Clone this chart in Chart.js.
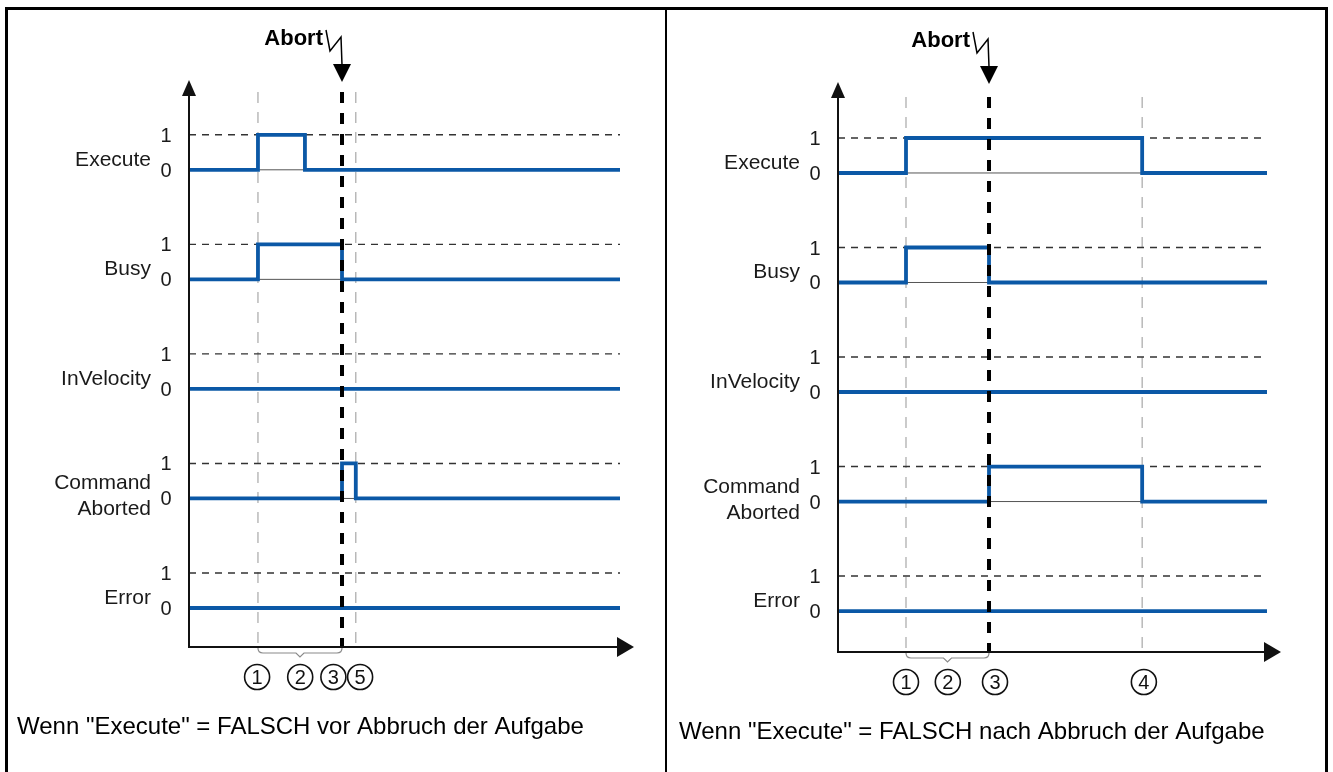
<!DOCTYPE html>
<html><head><meta charset="utf-8">
<script src="https://cdn.jsdelivr.net/npm/chart.js@4.4.0/dist/chart.umd.min.js"></script>
<style>
html,body{margin:0;padding:0;background:#fff;width:1333px;height:772px;overflow:hidden}
.panel{position:absolute;top:0;height:772px}
#pl{left:0;width:666px}
#pr{left:666px;width:667px}
.frame{position:absolute;left:5px;top:7px;width:1317px;height:800px;border:3px solid #000;border-bottom:none;pointer-events:none}
.divider{position:absolute;left:665px;top:7px;width:2px;height:800px;background:#000;pointer-events:none}
</style></head><body>
<div class="panel" id="pl"><canvas id="cl"></canvas></div>
<div class="panel" id="pr"><canvas id="cr"></canvas></div>
<div class="frame"></div><div class="divider"></div>
<script>
// ---------- data ----------
const signalNames = ['Execute', 'Busy', 'InVelocity', 'Command\nAborted', 'Error'];
const levelTicks = ['0', '1'];

// left: "Execute" = FALSE before the abort   [time, value]
const leftExecute        = [[0,0],[1.60,1],[2.69,0],[10,0]];
const leftBusy           = [[0,0],[1.60,1],[3.55,0],[10,0]];
const leftInVelocity     = [[0,0],[10,0]];
const leftCommandAborted = [[0,0],[3.55,1],[3.87,0],[10,0]];
const leftError          = [[0,0],[10,0]];
const leftAbortTime      = 3.55;
const leftMarkerTimes    = [1.60, 3.87];
const leftStepLabels     = ['1','2','3','5'];
const leftStepTimes      = [1.58, 2.58, 3.35, 3.97];
const leftBraceSpan      = [1.60, 3.55];
const leftCaption        = 'Wenn "Execute" = FALSCH vor Abbruch der Aufgabe';

// right: "Execute" = FALSE after the abort
const rightExecute        = [[0,0],[1.585,1],[7.09,0],[10,0]];
const rightBusy           = [[0,0],[1.585,1],[3.52,0],[10,0]];
const rightInVelocity     = [[0,0],[10,0]];
const rightCommandAborted = [[0,0],[3.52,1],[7.09,0],[10,0]];
const rightError          = [[0,0],[10,0]];
const rightAbortTime      = 3.52;
const rightMarkerTimes    = [1.585, 7.09];
const rightStepLabels     = ['1','2','3','4'];
const rightStepTimes      = [1.585, 2.56, 3.66, 7.13];
const rightBraceSpan      = [1.585, 3.52];
const rightCaption        = 'Wenn "Execute" = FALSCH nach Abbruch der Aufgabe';

// ---------- layout / style ----------
const LANE = 3.13;          // vertical distance between signal lanes (value units)
const T_END = 10;
const BLUE = '#0b58a6';
const FONT = '"Liberation Sans", Arial, Helvetica, sans-serif';

const panels = {
  cl: {series:[leftExecute,leftBusy,leftInVelocity,leftCommandAborted,leftError],
       abort:leftAbortTime, markers:leftMarkerTimes, steps:leftStepLabels, stepTimes:leftStepTimes,
       brace:leftBraceSpan, caption:leftCaption, capX:17,
       pad:{left:189,right:46,top:80,bottom:125}, yMin:-1.114, yMax:15.086, markTop:14.74},
  cr: {series:[rightExecute,rightBusy,rightInVelocity,rightCommandAborted,rightError],
       abort:rightAbortTime, markers:rightMarkerTimes, steps:rightStepLabels, stepTimes:rightStepTimes,
       brace:rightBraceSpan, caption:rightCaption, capX:13,
       pad:{left:172,right:66,top:82,bottom:120}, yMin:-1.17, yMax:15.12, markTop:14.69}
};

const laneBase = i => (signalNames.length - 1 - i) * LANE;

function sText(ctx, str, x, y, size, weight, align){
  ctx.save();
  ctx.font = weight + ' ' + size + 'px ' + FONT;
  ctx.textAlign = align; ctx.textBaseline = 'alphabetic';
  ctx.fillText(str, x, y);
  ctx.restore();
}

const overlay = {
  id: 'overlay',
  afterDraw(chart){
    const P = panels[chart.canvas.id];
    const ctx = chart.ctx, xs = chart.scales.x, ys = chart.scales.y;
    const x0 = xs.getPixelForValue(0), xEnd = xs.getPixelForValue(T_END);
    const yb = ys.getPixelForValue(P.yMin), yt = ys.getPixelForValue(P.yMax);
    ctx.save();
    ctx.fillStyle = '#111'; ctx.strokeStyle = '#111'; ctx.lineCap = 'butt';
    // axes
    ctx.lineWidth = 2;
    ctx.beginPath(); ctx.moveTo(x0, yb); ctx.lineTo(x0, yt + 14); ctx.stroke();
    ctx.beginPath(); ctx.moveTo(x0, yt); ctx.lineTo(x0 - 7, yt + 16); ctx.lineTo(x0 + 7, yt + 16); ctx.closePath(); ctx.fill();
    const xt = xEnd + 14;
    ctx.beginPath(); ctx.moveTo(x0 - 1, yb); ctx.lineTo(xt - 15, yb); ctx.stroke();
    ctx.beginPath(); ctx.moveTo(xt, yb); ctx.lineTo(xt - 17, yb - 10); ctx.lineTo(xt - 17, yb + 10); ctx.closePath(); ctx.fill();

    // lane labels
    ctx.fillStyle = '#1a1a1a';
    signalNames.forEach((name, i) => {
      const y0 = ys.getPixelForValue(laneBase(i));
      const y1 = ys.getPixelForValue(laneBase(i) + 1);
      const parts = name.split('\n');
      if (parts.length === 1) sText(ctx, parts[0], x0 - 38, y0 - 4, 21, 'normal', 'right');
      else { sText(ctx, parts[0], x0 - 38, y0 - 9, 21, 'normal', 'right');
             sText(ctx, parts[1], x0 - 38, y0 + 17, 21, 'normal', 'right'); }
      sText(ctx, levelTicks[0], x0 - 23, y0 + 7, 20, 'normal', 'center');
      sText(ctx, levelTicks[1], x0 - 23, y1 + 7, 20, 'normal', 'center');
    });

    // Abort arrow with lightning
    const ax = xs.getPixelForValue(P.abort), tip = yt + 2;
    ctx.fillStyle = '#000'; ctx.strokeStyle = '#000'; ctx.lineWidth = 1.5;
    ctx.beginPath();
    ctx.moveTo(ax - 16, tip - 52); ctx.lineTo(ax - 12, tip - 31);
    ctx.lineTo(ax - 1, tip - 45); ctx.lineTo(ax, tip - 17); ctx.stroke();
    ctx.beginPath(); ctx.moveTo(ax, tip); ctx.lineTo(ax - 9, tip - 18); ctx.lineTo(ax + 9, tip - 18); ctx.closePath(); ctx.fill();
    sText(ctx, 'Abort', ax - 19, tip - 37, 22, 'bold', 'right');

    // brace
    const bx1 = xs.getPixelForValue(P.brace[0]), bx2 = xs.getPixelForValue(P.brace[1]);
    const bm = (bx1 + bx2) / 2;
    ctx.strokeStyle = '#8a8a8a'; ctx.lineWidth = 1.2;
    ctx.beginPath();
    ctx.moveTo(bx1, yb + 1);
    ctx.quadraticCurveTo(bx1, yb + 6, bx1 + 5, yb + 6);
    ctx.lineTo(bm - 4, yb + 6); ctx.lineTo(bm, yb + 10); ctx.lineTo(bm + 4, yb + 6);
    ctx.lineTo(bx2 - 5, yb + 6);
    ctx.quadraticCurveTo(bx2, yb + 6, bx2, yb + 1);
    ctx.stroke();

    // step circles
    ctx.strokeStyle = '#111'; ctx.fillStyle = '#111'; ctx.lineWidth = 1.6;
    P.steps.forEach((s, k) => {
      const cx = xs.getPixelForValue(P.stepTimes[k]), cy = yb + 30;
      ctx.beginPath(); ctx.arc(cx, cy, 12.5, 0, Math.PI * 2); ctx.stroke();
      sText(ctx, s, cx, cy + 7, 20, 'normal', 'center');
    });

    // caption
    ctx.fillStyle = '#000';
    sText(ctx, P.caption, P.capX, yb + 87, 24, 'normal', 'left');
    ctx.restore();
  }
};

function build(id){
  const P = panels[id];
  const ds = [];
  const seg = (t) => [{x:t, y:P.markTop}, {x:t, y:P.yMin}];
  // thick abort marker on top
  ds.push({data: seg(P.abort), borderColor:'#000', borderWidth:4, borderDash:[11,10]});
  // signals
  P.series.forEach((s, i) => ds.push({
    data: s.map(([t, v]) => ({x:t, y:laneBase(i) + v})),
    stepped: true, borderColor: BLUE, borderWidth: 3.8
  }));
  // level "1" dashed guides
  signalNames.forEach((n, i) => ds.push({
    data: [{x:0, y:laneBase(i) + 1}, {x:T_END, y:laneBase(i) + 1}],
    borderColor:'#333', borderWidth:1.4, borderDash:[7,6]
  }));
  // level "0" thin base lines
  signalNames.forEach((n, i) => ds.push({
    data: [{x:0, y:laneBase(i)}, {x:T_END, y:laneBase(i)}],
    borderColor:'#555', borderWidth:1
  }));
  // thin event markers
  P.markers.forEach(t => ds.push({data: seg(t), borderColor:'#a8a8a8', borderWidth:1.2, borderDash:[11,9]}));

  new Chart(document.getElementById(id), {
    type: 'line',
    data: {datasets: ds},
    options: {
      responsive: true, maintainAspectRatio: false, animation: false, events: [],
      devicePixelRatio: 1,
      layout: {padding: P.pad},
      elements: {point: {radius: 0}, line: {tension: 0, fill: false, borderCapStyle: 'butt', borderJoinStyle: 'miter'}},
      scales: {
        x: {type:'linear', min:0, max:T_END, display:false},
        y: {type:'linear', min:P.yMin, max:P.yMax, display:false}
      },
      plugins: {legend: {display:false}, tooltip: {enabled:false}}
    },
    plugins: [overlay]
  });
}
build('cl');
build('cr');
</script>
</body></html>
